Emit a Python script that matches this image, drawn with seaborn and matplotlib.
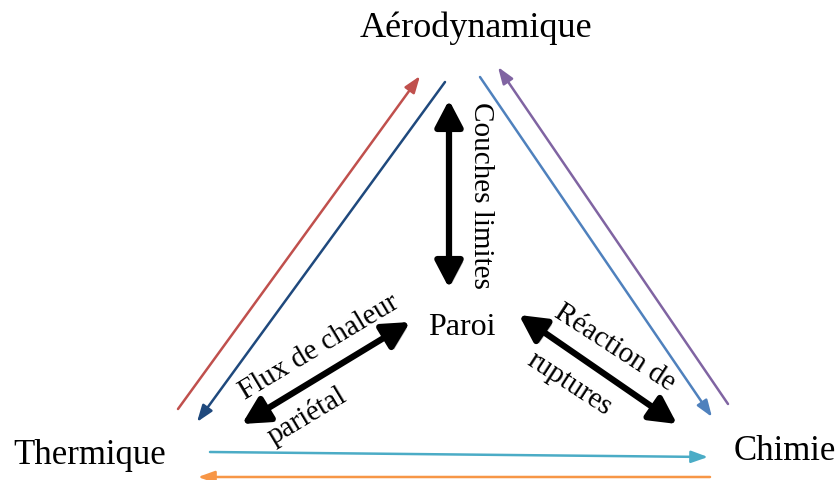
import matplotlib
matplotlib.use("Agg")
import matplotlib.pyplot as plt
import matplotlib.patheffects as pe
import seaborn as sns

# node labels and their positions (pixel space of the original picture)
nodes = ["Aérodynamique", "Thermique", "Chimie", "Paroi"]
node_x = [476, 90, 785, 462]
node_y = [28, 456, 452, 328]
node_size = [26, 25, 25, 23]

# thin coloured coupling arrows: start -> end
link_x0 = [178, 445, 480, 728, 210, 710]
link_y0 = [410, 83, 78, 405, 453, 478]
link_x1 = [420, 197, 712, 498, 708, 198]
link_y1 = [77, 423, 418, 68, 458, 478]
link_colors = ["#c0504d", "#1f497d", "#4f81bd", "#8064a2", "#4bacc6", "#f79646"]

# thick black double arrows towards the wall
wall_x0 = [449, 242, 519]
wall_y0 = [101, 425, 316]
wall_x1 = [449, 410, 677]
wall_y1 = [289, 323, 425]

# rotated labels on the black arrows
lab_text = ["Couches limites", "Flux de chaleur", "pariétal", "Réaction de", "ruptures"]
lab_x = [481, 319, 307, 615, 569]
lab_y = [195, 347, 416, 348, 384]
lab_rot = [-90, 31, 31, -33, -33]

sns.set_style("white")
plt.rcParams["font.family"] = ["Liberation Serif", "DejaVu Serif"]

fig = plt.figure(figsize=(8.4, 4.81), dpi=100)
ax = fig.add_axes([0, 0, 1, 1])
ax.set_xlim(0, 840)
ax.set_ylim(481, 0)
ax.axis("off")

for x0, y0, x1, y1, c in zip(link_x0, link_y0, link_x1, link_y1, link_colors):
    ax.annotate("", xy=(x1, y1), xytext=(x0, y0),
                arrowprops=dict(arrowstyle="-|>,head_length=1.0,head_width=0.36",
                                color=c, lw=1.8, mutation_scale=10,
                                shrinkA=0, shrinkB=0))

shadow = [pe.SimplePatchShadow(offset=(2, -2), alpha=0.25), pe.Normal()]
for x0, y0, x1, y1 in zip(wall_x0, wall_y0, wall_x1, wall_y1):
    ax.annotate("", xy=(x1, y1), xytext=(x0, y0),
                arrowprops=dict(arrowstyle="<|-|>,head_length=0.8,head_width=0.42",
                                color="black", lw=4.5, mutation_scale=20,
                                shrinkA=0, shrinkB=0, path_effects=shadow))

for t, x, y, s in zip(nodes, node_x, node_y, node_size):
    ax.text(x, y, t, fontsize=s, ha="center", va="center", color="black")

for t, x, y, r in zip(lab_text, lab_x, lab_y, lab_rot):
    ax.text(x, y, t, fontsize=21, ha="center", va="center", rotation=r,
            rotation_mode="anchor", color="black")

fig.savefig("out.png", dpi=100)
